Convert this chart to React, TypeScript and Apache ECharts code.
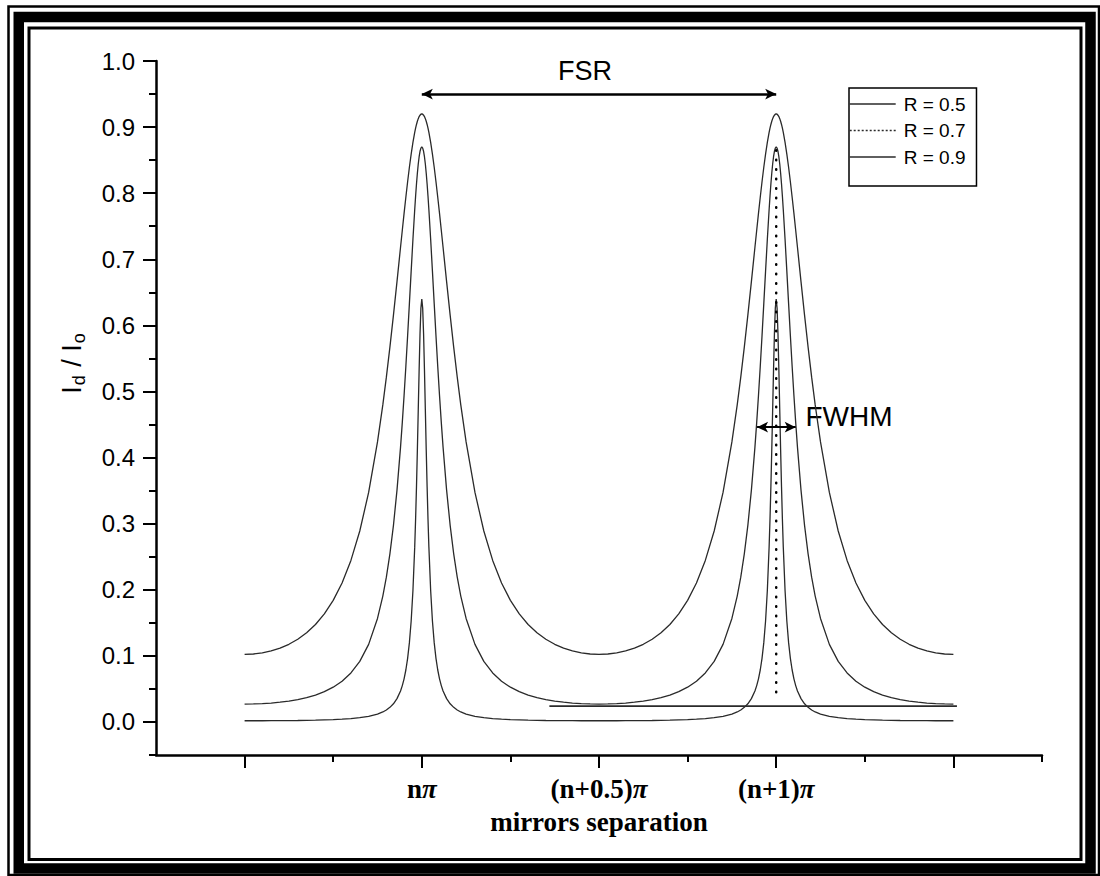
import React, { useEffect, useRef } from "react";
import * as echarts from "echarts";

// distance from the nearest transmission peak (in units of π)
const offsetsFromPeak = [0, 0.0025, 0.005, 0.0075, 0.01, 0.0125, 0.015, 0.0175, 0.02, 0.025, 0.03, 0.035, 0.04, 0.045, 0.05, 0.055, 0.06, 0.07, 0.08, 0.09, 0.1, 0.11, 0.125, 0.15, 0.175, 0.2, 0.225, 0.25, 0.275, 0.3, 0.325, 0.35, 0.375, 0.4, 0.425, 0.45, 0.475, 0.5];
// values at those offsets
const r05Profile = [0.92, 0.9195, 0.918, 0.9159, 0.9128, 0.9088, 0.904, 0.8983, 0.8919, 0.8768, 0.8591, 0.8392, 0.8173, 0.7939, 0.7694, 0.744, 0.7182, 0.6663, 0.6155, 0.567, 0.5216, 0.4797, 0.4237, 0.3473, 0.2889, 0.2444, 0.2103, 0.184, 0.1635, 0.1475, 0.135, 0.1252, 0.1175, 0.1117, 0.1074, 0.1045, 0.1028, 0.1022];
const r07Profile = [0.87, 0.8683, 0.8634, 0.8552, 0.8441, 0.8302, 0.8138, 0.7953, 0.7749, 0.7302, 0.6821, 0.6329, 0.5844, 0.5378, 0.4939, 0.4532, 0.4158, 0.3508, 0.2975, 0.2543, 0.2191, 0.1904, 0.1566, 0.1174, 0.0916, 0.0741, 0.0616, 0.0526, 0.0458, 0.0407, 0.0368, 0.0339, 0.0316, 0.0299, 0.0286, 0.0278, 0.0272, 0.0271];
const r09Profile = [0.64, 0.6261, 0.5878, 0.5334, 0.4723, 0.4116, 0.3558, 0.3067, 0.2645, 0.199, 0.1528, 0.12, 0.0962, 0.0786, 0.0652, 0.055, 0.0469, 0.0353, 0.0275, 0.0221, 0.0181, 0.0151, 0.0119, 0.0085, 0.0064, 0.0051, 0.0042, 0.0035, 0.0031, 0.0027, 0.0024, 0.0022, 0.0021, 0.002, 0.0019, 0.0018, 0.0018, 0.0018];
const peakPositions = [0, 1];
const seriesNames = ["R = 0.5", "R = 0.7", "R = 0.9"];

const flatLine = [[0.36, 0.024], [1.51, 0.024]];
const dottedLine = [[1, 0.865], [1, 0.033]];
const fsrArrow = [[0, 0.95], [1, 0.95]];
const fwhmArrow = [[0.946, 0.446], [1.055, 0.446]];

const xMajorTicks = [-0.5, 0, 0.5, 1, 1.5];
const xMinorTicks = [-0.25, 0.25, 0.75, 1.25, 1.75];
const xLabelValues = [0, 0.5, 1];
const xLabelTexts = ["{b|n}{p|π}", "{b|(n+0.5)}{p|π}", "{b|(n+1)}{p|π}"];
const yMajorTicks = [0, 0.1, 0.2, 0.3, 0.4, 0.5, 0.6, 0.7, 0.8, 0.9, 1.0];
const yMinorTicks = [-0.05, 0.05, 0.15, 0.25, 0.35, 0.45, 0.55, 0.65, 0.75, 0.85, 0.95];

function buildCurve(profile: number[]) {
  const pts: number[][] = [];
  peakPositions.forEach((p) => {
    for (let i = offsetsFromPeak.length - 1; i >= 0; i--) pts.push([p - offsetsFromPeak[i], profile[i]]);
    for (let i = 1; i < offsetsFromPeak.length; i++) pts.push([p + offsetsFromPeak[i], profile[i]]);
  });
  return pts;
}

const SANS = "Liberation Sans";
const SERIF = "Liberation Serif";
const INK = "#2a2a2a";

export default function App() {
  const ref = useRef<HTMLDivElement>(null);
  useEffect(() => {
    if (!ref.current) return;
    const chart = echarts.init(ref.current, undefined, { renderer: "svg" });
    const curveStyle = { color: INK, width: 1.3 };
    const xMin = -0.75, xMax = 1.75, yMin = -0.05, yMax = 1.0;
    chart.setOption({
      animation: false,
      backgroundColor: "#fff",
      grid: { left: 156, right: 58, top: 61, bottom: 121, containLabel: false },
      xAxis: [
        {
          type: "value", min: xMin, max: xMax, position: "bottom",
          axisLine: { show: true, onZero: false, lineStyle: { color: "#000", width: 2.5 } },
          axisTick: { show: true, inside: false, length: 13, customValues: xMajorTicks, lineStyle: { color: "#000", width: 2 } },
          axisLabel: {
            show: true, margin: 20, customValues: xLabelValues,
            formatter: (v: number) => xLabelTexts[xLabelValues.indexOf(v)] || "",
            rich: {
              b: { fontFamily: SERIF, fontWeight: "bold", fontSize: 27, color: "#000" },
              p: { fontFamily: SERIF, fontWeight: "bold", fontStyle: "italic", fontSize: 27, color: "#000" },
            },
          },
          splitLine: { show: false },
          name: "mirrors separation", nameLocation: "middle", nameGap: 53,
          nameTextStyle: { fontFamily: SERIF, fontWeight: "bold", fontSize: 27, color: "#000" },
        },
        {
          type: "value", min: xMin, max: xMax, position: "bottom",
          axisLine: { show: false, onZero: false },
          axisTick: { show: true, inside: false, length: 7, customValues: xMinorTicks, lineStyle: { color: "#000", width: 2 } },
          axisLabel: { show: false }, splitLine: { show: false },
        },
      ],
      yAxis: [
        {
          type: "value", min: yMin, max: yMax, position: "left",
          axisLine: { show: true, onZero: false, lineStyle: { color: "#000", width: 2.5 } },
          axisTick: { show: true, inside: false, length: 13, customValues: yMajorTicks, lineStyle: { color: "#000", width: 2 } },
          axisLabel: {
            show: true, margin: 21, customValues: yMajorTicks,
            formatter: (v: number) => v.toFixed(1),
            fontFamily: SANS, fontSize: 24, color: "#000",
          },
          splitLine: { show: false },
          name: "{a|I}{s|d}{a| / I}{s|o}", nameLocation: "middle", nameRotate: 90, nameGap: 68,
          nameTextStyle: {
            padding: [0, 0, 0, 90],
            rich: {
              a: { fontFamily: SANS, fontSize: 27, color: "#000" },
              s: { fontFamily: SANS, fontSize: 18, color: "#000", padding: [14, 1, 0, 1] },
            },
          },
        },
        {
          type: "value", min: yMin, max: yMax, position: "left",
          axisLine: { show: false, onZero: false },
          axisTick: { show: true, inside: false, length: 7, customValues: yMinorTicks, lineStyle: { color: "#000", width: 2 } },
          axisLabel: { show: false }, splitLine: { show: false },
        },
      ],
      legend: {
        orient: "vertical", left: 849, top: 88,
        data: [
          { name: seriesNames[0], lineStyle: { color: INK, width: 1.4 } },
          { name: seriesNames[1], lineStyle: { color: INK, type: [2, 2], width: 1.4 } },
          { name: seriesNames[2], lineStyle: { color: INK, width: 1.4 } },
        ],
        itemWidth: 46, itemHeight: 20, itemGap: 6.5,
        itemStyle: { opacity: 0, borderWidth: 0 },
        borderColor: "#000", borderWidth: 1.5, borderRadius: 0,
        padding: [6, 11, 19, 0], backgroundColor: "#fff",
        selectedMode: false,
        textStyle: { fontFamily: SANS, fontSize: 19, color: "#000", lineHeight: 20, padding: [0, 0, 0, 3] },
      },
      series: [
        { name: seriesNames[0], type: "line", data: buildCurve(r05Profile), symbol: "none", lineStyle: curveStyle, itemStyle: { color: INK }, z: 3 },
        { name: seriesNames[1], type: "line", data: buildCurve(r07Profile), symbol: "none", lineStyle: curveStyle, itemStyle: { color: INK }, z: 3 },
        { name: seriesNames[2], type: "line", data: buildCurve(r09Profile), symbol: "none", lineStyle: curveStyle, itemStyle: { color: INK }, z: 3 },
        { name: "baseline", type: "line", data: flatLine, symbol: "none", lineStyle: { color: INK, width: 1.6 }, z: 3 },
        { name: "peak", type: "line", data: dottedLine, symbol: "none", lineStyle: { color: "#000", width: 2.5, type: [0.5, 9], cap: "round" }, z: 4 },
        {
          name: "arrows", type: "line", data: [], symbol: "none",
          markLine: {
            silent: true, symbol: ["arrow", "arrow"], symbolSize: [8, 11],
            label: { show: false },
            data: [
              [{ coord: fsrArrow[0], lineStyle: { color: "#000", width: 2.5, type: "solid" } }, { coord: fsrArrow[1] }],
              [{ coord: fwhmArrow[0], lineStyle: { color: "#000", width: 2, type: "solid" } }, { coord: fwhmArrow[1] }],
            ],
          },
        },
      ],
      graphic: [
        { type: "rect", silent: true, shape: { x: 8.5, y: 6.5, width: 1090.5, height: 868.5 }, style: { fill: "none", stroke: "#000", lineWidth: 2.5 } },
        { type: "rect", silent: true, shape: { x: 18.75, y: 17, width: 1071.75, height: 851.5 }, style: { fill: "none", stroke: "#000", lineWidth: 10.5 } },
        { type: "rect", silent: true, shape: { x: 29, y: 28, width: 1052, height: 831.5 }, style: { fill: "none", stroke: "#000", lineWidth: 3 } },
        { type: "text", silent: true, x: 585, y: 71, style: { text: "FSR", fontFamily: SANS, fontSize: 27, fill: "#000", align: "center", verticalAlign: "middle" } },
        { type: "text", silent: true, x: 849, y: 416, style: { text: "FWHM", fontFamily: SANS, fontSize: 28, fill: "#000", align: "center", verticalAlign: "middle" } },
      ],
    });
    return () => chart.dispose();
  }, []);
  return <div ref={ref} style={{ position: "fixed", left: 0, top: 0, width: 1100, height: 876, background: "#fff" }} />;
}
